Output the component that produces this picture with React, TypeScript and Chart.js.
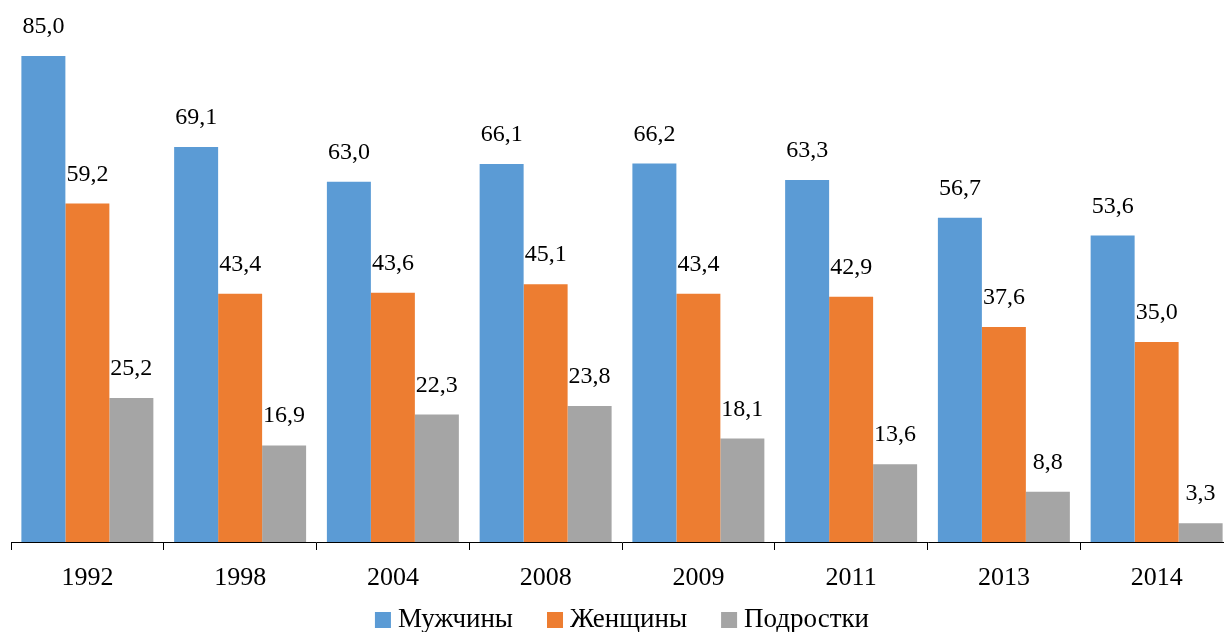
import { useEffect, useRef } from "react";
import { Chart, registerables } from "chart.js";

Chart.register(...registerables);

const years = ["1992", "1998", "2004", "2008", "2009", "2011", "2013", "2014"];
const men = [85.0, 69.1, 63.0, 66.1, 66.2, 63.3, 56.7, 53.6];
const women = [59.2, 43.4, 43.6, 45.1, 43.4, 42.9, 37.6, 35.0];
const teens = [25.2, 16.9, 22.3, 23.8, 18.1, 13.6, 8.8, 3.3];
const seriesNames = ["Мужчины", "Женщины", "Подростки"];
const seriesColors = ["#5B9BD5", "#ED7D31", "#A5A5A5"];

const FONT = '"Liberation Serif", "Times New Roman", serif';
const fmt = (v: number) => v.toFixed(1).replace(".", ",");

const valueLabels = {
  id: "valueLabels",
  afterDatasetsDraw(chart: any) {
    const ctx = chart.ctx;
    ctx.save();
    ctx.font = `24px ${FONT}`;
    ctx.fillStyle = "#000";
    ctx.textAlign = "center";
    ctx.textBaseline = "alphabetic";
    chart.data.datasets.forEach((ds: any, i: number) => {
      const meta = chart.getDatasetMeta(i);
      meta.data.forEach((el: any, j: number) => {
        ctx.fillText(fmt(ds.data[j]), el.x, el.y - 23);
      });
    });
    ctx.restore();
  },
};

const customLegend = {
  id: "customLegend",
  afterDraw(chart: any) {
    const ctx = chart.ctx;
    const area = chart.chartArea;
    ctx.save();
    ctx.font = `27px ${FONT}`;
    const box = 16;
    const gapText = 7;
    const gapItem = 34;
    const widths = seriesNames.map((n) => ctx.measureText(n).width);
    const total =
      widths.reduce((a, b) => a + b, 0) + seriesNames.length * (box + gapText) + gapItem * (seriesNames.length - 1);
    let x = (area.left + area.right) / 2 - total / 2;
    const baseline = 627;
    seriesNames.forEach((n, i) => {
      ctx.fillStyle = seriesColors[i];
      ctx.fillRect(x, baseline - 15, box, box);
      x += box + gapText;
      ctx.fillStyle = "#000";
      ctx.textAlign = "left";
      ctx.textBaseline = "alphabetic";
      ctx.fillText(n, x, baseline);
      x += widths[i] + gapItem;
    });
    ctx.restore();
  },
};

export default function App() {
  const ref = useRef<HTMLCanvasElement | null>(null);
  useEffect(() => {
    if (!ref.current) return;
    const chart = new Chart(ref.current, {
      type: "bar",
      data: {
        labels: years,
        datasets: [men, women, teens].map((d, i) => ({
          label: seriesNames[i],
          data: d,
          backgroundColor: seriesColors[i],
          borderWidth: 0,
          categoryPercentage: 0.864,
          barPercentage: 1,
        })),
      },
      options: {
        animation: false,
        responsive: false,
        devicePixelRatio: 1,
        layout: { padding: { left: 11, right: 1, top: 0, bottom: 0 } },
        plugins: {
          legend: { display: false },
          tooltip: { enabled: false },
        },
        scales: {
          x: {
            offset: true,
            grid: {
              offset: true,
              drawOnChartArea: false,
              drawTicks: true,
              tickLength: 8,
              color: "#000",
              lineWidth: 1,
            },
            border: { display: true, color: "#000", width: 1 },
            ticks: {
              color: "#000",
              font: { family: FONT, size: 26 },
              padding: 13,
              maxRotation: 0,
              autoSkip: false,
            },
            afterFit: (scale: any) => {
              scale.height = 90;
            },
          },
          y: {
            display: false,
            min: 0,
            max: 94.8,
          },
        },
      },
      plugins: [valueLabels, customLegend],
    });
    return () => chart.destroy();
  }, []);
  return (
    <div
      style={{
        position: "absolute",
        left: 0,
        top: 0,
        width: 1224,
        height: 632,
        overflow: "hidden",
        background: "#fff",
      }}
    >
      <canvas ref={ref} width={1234} height={632} style={{ width: 1234, height: 632, display: "block" }} />
    </div>
  );
}
